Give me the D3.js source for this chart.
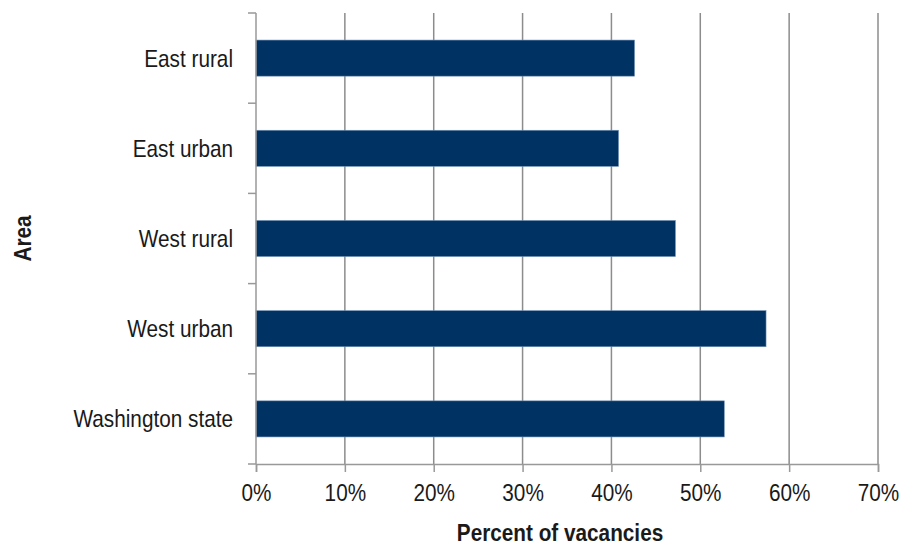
<!DOCTYPE html>
<html>
<head>
<meta charset="utf-8">
<script src="https://cdn.jsdelivr.net/npm/d3@7"></script>
<style>
  html, body { margin: 0; padding: 0; background: #fff; }
  svg text { font-family: "Liberation Sans Narrow", "Arial Narrow", "Liberation Sans", Arial, sans-serif; fill: #1a1a1a; }
</style>
</head>
<body>
<svg id="chart" width="915" height="546"></svg>
<script>
// Share of vacancies by area (percent)
const categories = ["East rural", "East urban", "West rural", "West urban", "Washington state"];
const values = [42.6, 40.8, 47.2, 57.4, 52.7];
const xTicks = [0, 10, 20, 30, 40, 50, 60, 70];

const svg = d3.select("#chart");
const margin = { left: 256, right: 37, top: 13, bottom: 82 };
const width = 915, height = 546;
const innerW = width - margin.left - margin.right;
const innerH = height - margin.top - margin.bottom;
const narrow = 0.865; // horizontal squeeze for a condensed face

const x = d3.scaleLinear().domain([0, 70]).range([0, innerW]);
const y = d3.scaleBand().domain(categories).range([0, innerH]).paddingInner(0.6).paddingOuter(0.3);

const g = svg.append("g").attr("transform", `translate(${margin.left},${margin.top})`);

// vertical gridlines
g.append("g").selectAll("line").data(xTicks.slice(1)).join("line")
  .attr("x1", d => x(d)).attr("x2", d => x(d))
  .attr("y1", 0).attr("y2", innerH)
  .attr("stroke", "#8c8c8c").attr("stroke-width", 1.5);

// bars
g.append("g").selectAll("rect").data(categories).join("rect")
  .attr("x", 0)
  .attr("y", d => y(d))
  .attr("width", (d, i) => x(values[i]))
  .attr("height", y.bandwidth())
  .attr("fill", "#003263")
  .attr("stroke", "#6f8fb3").attr("stroke-width", 0.6);

// x axis
const xAxis = g.append("g").attr("transform", `translate(0,${innerH})`)
  .call(d3.axisBottom(x).tickValues(xTicks).tickFormat(d => d + "%").tickSize(8).tickPadding(12));
xAxis.select(".domain").attr("stroke", "#999").attr("stroke-width", 1.5);
xAxis.selectAll(".tick line").attr("stroke", "#999").attr("stroke-width", 1.5);
xAxis.selectAll("text").attr("font-size", 24).attr("fill", "#1a1a1a")
  .attr("transform", `scale(${narrow},1)`);

// y axis with ticks at category boundaries
const yAxis = g.append("g");
yAxis.append("line").attr("x1", 0).attr("x2", 0).attr("y1", 0).attr("y2", innerH)
  .attr("stroke", "#999").attr("stroke-width", 1.5);
const step = innerH / categories.length;
yAxis.selectAll("line.tk").data(d3.range(categories.length + 1)).join("line").attr("class", "tk")
  .attr("x1", -8).attr("x2", 0)
  .attr("y1", d => d * step).attr("y2", d => d * step)
  .attr("stroke", "#999").attr("stroke-width", 1.5);
yAxis.selectAll("text").data(categories).join("text")
  .attr("transform", d => `translate(-23,${y(d) + y.bandwidth() / 2}) scale(${narrow},1)`)
  .attr("dy", "0.35em")
  .attr("text-anchor", "end")
  .attr("font-size", 24)
  .text(d => d);

// axis titles
svg.append("text")
  .attr("transform", `translate(560,541) scale(${narrow},1)`)
  .attr("text-anchor", "middle")
  .attr("font-size", 24).attr("font-weight", "bold")
  .text("Percent of vacancies");

svg.append("text")
  .attr("transform", `translate(31,${margin.top + innerH / 2}) rotate(-90) scale(${narrow},1)`)
  .attr("text-anchor", "middle")
  .attr("font-size", 24).attr("font-weight", "bold")
  .text("Area");
</script>
</body>
</html>
